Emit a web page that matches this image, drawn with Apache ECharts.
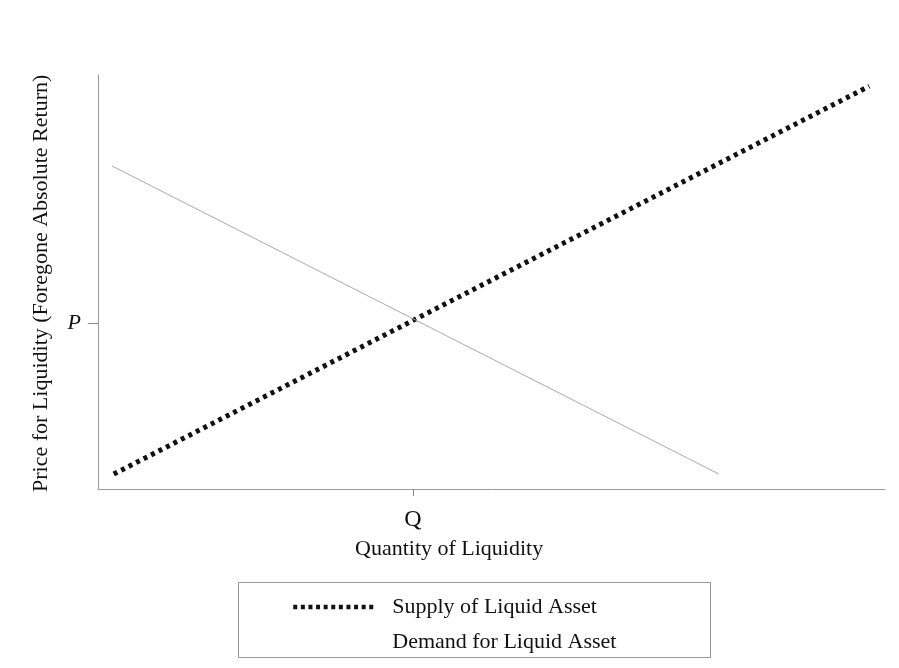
<!DOCTYPE html>
<html>
<head>
<meta charset="utf-8">
<script src="https://cdn.jsdelivr.net/npm/echarts@6/dist/echarts.min.js"></script>
<style>
html, body { margin: 0; padding: 0; background: #fff; }
#main { width: 899px; height: 668px; }
</style>
</head>
<body>
<div id="main"></div>
<script>
var seriesNames = ['Supply of Liquid Asset', 'Demand for Liquid Asset'];
var supplyLine = [[2, 3.6], [98, 97.3]];
var demandLine = [[1.8, 78], [78.9, 3.6]];
var qValue = 40;
var pValue = 40;

var myChart = echarts.init(document.getElementById('main'));
var serif = "'Liberation Serif', 'DejaVu Serif', serif";

var option = {
    backgroundColor: '#fff',
    animation: false,
    grid: { left: 98, top: 75, width: 787, height: 414 },
    legend: {
        orient: 'vertical',
        left: 286,
        top: 591,
        itemWidth: 82,
        itemHeight: 14,
        itemGap: 13,
        textStyle: { fontFamily: serif, fontSize: 22, color: '#111', padding: [0, 0, 0, 12] },
        data: [
            {
                name: seriesNames[0],
                itemStyle: { opacity: 0 },
                lineStyle: { color: '#111', width: 4.5, type: [4, 3.6] }
            },
            { name: seriesNames[1], lineStyle: { opacity: 0 }, itemStyle: { opacity: 0 } }
        ]
    },
    xAxis: {
        type: 'value',
        min: 0,
        max: 100,
        splitLine: { show: false },
        axisLine: { lineStyle: { color: '#999', width: 1 } },
        axisTick: { length: 7, lineStyle: { color: '#888' }, customValues: [qValue] },
        axisLabel: {
            customValues: [qValue],
            formatter: function () { return 'Q'; },
            margin: 19,
            fontFamily: serif,
            fontSize: 24,
            color: '#111'
        }
    },
    yAxis: {
        type: 'value',
        min: 0,
        max: 100,
        splitLine: { show: false },
        axisLine: { lineStyle: { color: '#999', width: 1 } },
        axisTick: { length: 10, lineStyle: { color: '#888' }, customValues: [pValue] },
        axisLabel: {
            customValues: [pValue],
            formatter: function () { return 'P'; },
            margin: 17,
            fontFamily: serif,
            fontStyle: 'italic',
            fontSize: 22,
            color: '#111'
        }
    },
    graphic: [
        {
            type: 'text',
            left: 355,
            top: 538,
            style: { text: 'Quantity of Liquidity', font: '22px ' + serif, fill: '#111' }
        },
        {
            type: 'text',
            x: 30,
            y: 492,
            rotation: Math.PI / 2,
            style: { text: 'Price for Liquidity (Foregone Absolute Return)', font: '22px ' + serif, fill: '#111' }
        },
        {
            type: 'rect',
            shape: { x: 238.5, y: 582.5, width: 472, height: 75 },
            style: { fill: 'none', stroke: '#999', lineWidth: 1 }
        }
    ],
    series: [
        {
            name: seriesNames[0],
            type: 'line',
            data: supplyLine,
            symbol: 'none',
            lineStyle: { color: '#111', width: 5, type: [4, 4.4] }
        },
        {
            name: seriesNames[1],
            type: 'line',
            data: demandLine,
            symbol: 'none',
            lineStyle: { color: '#aaa', width: 1 }
        }
    ]
};

myChart.setOption(option);

window.onresize = function () {
    myChart.resize();
};
</script>
</body>
</html>
